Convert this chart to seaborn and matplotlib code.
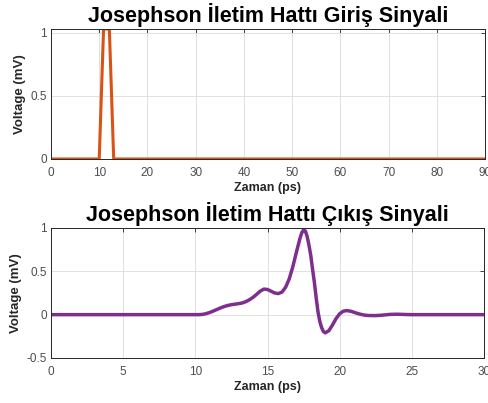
import numpy as np
import pandas as pd
import matplotlib
matplotlib.use("Agg")
import matplotlib.pyplot as plt
import seaborn as sns

# Input pulse (ps, mV)
input_time = [0, 10, 10.9, 12.1, 13, 90]
input_voltage = [0, 0, 1.03, 1.03, 0, 0]

# Output signal (ps, mV)
output_time = [0, 5, 10, 10.25, 10.5, 10.75, 11, 11.25, 11.5, 11.75, 12, 12.25,
               12.5, 12.75, 13, 13.25, 13.5, 13.75, 14, 14.25, 14.5, 14.75, 15,
               15.25, 15.5, 15.75, 16, 16.25, 16.5, 16.75, 17, 17.125, 17.25,
               17.375, 17.5, 17.625, 17.75, 17.875, 18, 18.125, 18.25, 18.375,
               18.5, 18.625, 18.75, 18.875, 19, 19.25, 19.5, 19.75,
               20, 20.25, 20.5, 20.75, 21, 21.25, 21.5, 21.75, 22, 22.5, 23,
               23.5, 24, 24.5, 25, 30]
output_voltage = [0, 0, 0, 0, 0.003, 0.012, 0.025, 0.042, 0.06, 0.078, 0.094,
                  0.106, 0.115, 0.121, 0.127, 0.135, 0.15, 0.172, 0.2, 0.235,
                  0.272, 0.295, 0.29, 0.27, 0.25, 0.243, 0.26, 0.315, 0.41,
                  0.55, 0.72, 0.8, 0.88, 0.945, 0.978, 0.965, 0.9, 0.8, 0.68,
                  0.52, 0.37, 0.19, 0.03, -0.08, -0.15, -0.195, -0.21, -0.185,
                  -0.12, -0.045, 0.01, 0.04, 0.047, 0.04, 0.027,
                  0.013, 0.002, -0.006, -0.01, -0.011, -0.005, 0.003, 0.005,
                  0.002, 0, 0]

top_xticks = list(range(0, 100, 10))
top_yticks = [0, 0.5, 1]
bottom_xticks = [0, 5, 10, 15, 20, 25, 30]
bottom_yticks = [-0.5, 0, 0.5, 1]

sns.set_style("whitegrid")
plt.rcParams['font.family'] = ['Liberation Sans', 'DejaVu Sans']

fig = plt.figure(figsize=(4.89, 4.03), dpi=100)
ax1 = fig.add_axes([0.1043, 0.6055, 0.8875, 0.3226])
ax2 = fig.add_axes([0.1043, 0.1117, 0.8855, 0.3226])

df_in = pd.DataFrame({'t': input_time, 'v': input_voltage})
df_out = pd.DataFrame({'t': output_time, 'v': output_voltage})

sns.lineplot(data=df_in, x='t', y='v', ax=ax1, color='#D95319', linewidth=2.2,
             sort=False, estimator=None)
sns.lineplot(data=df_out, x='t', y='v', ax=ax2, color='#7E2F8E', linewidth=2.5,
             sort=False, estimator=None)


def style_axes(ax, title, xlim, ylim, xticks, yticks):
    ax.set_xlim(*xlim)
    ax.set_ylim(*ylim)
    ax.set_xticks(xticks)
    ax.set_yticks(yticks)
    ax.set_xticklabels([f'{t:g}' for t in xticks])
    ax.set_yticklabels([f'{t:g}' for t in yticks])
    ax.set_title(title, fontsize=15.5, fontweight='bold', color='black', pad=5)
    ax.set_xlabel('Zaman (ps)', fontsize=9, fontweight='bold', color='#262626',
                  labelpad=2)
    ax.set_ylabel('Voltage (mV)', fontsize=9.5, fontweight='bold',
                  color='#262626', labelpad=3)
    ax.grid(True, color='#dcdcdc', linewidth=0.6)
    ax.tick_params(direction='in', length=3, width=0.6, colors='#262626',
                   labelsize=8.5, labelcolor='#4d4d4d', top=True, right=True)
    ax.tick_params(axis='x', pad=6)
    ax.tick_params(axis='y', pad=3)
    for s in ax.spines.values():
        s.set_color('#262626')
        s.set_linewidth(0.7)


style_axes(ax1, 'Josephson İletim Hattı Giriş Sinyali', (0, 90), (0, 1.03),
           top_xticks, top_yticks)
style_axes(ax2, 'Josephson İletim Hattı Çıkış Sinyali', (0, 30), (-0.5, 1),
           bottom_xticks, bottom_yticks)

fig.savefig('out.png', dpi=100)
